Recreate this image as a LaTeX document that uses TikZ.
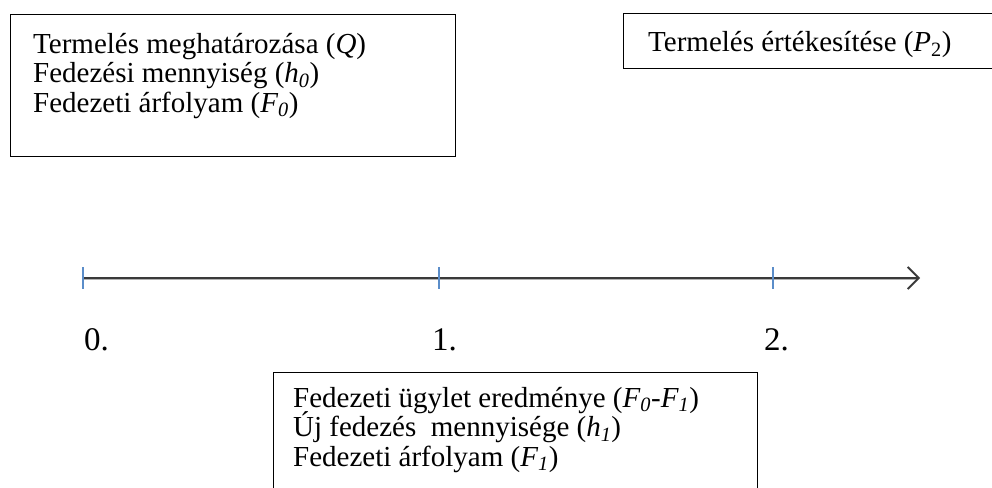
\documentclass[tikz,border=0pt]{standalone}
\usepackage{fontspec}
\setmainfont{Liberation Serif}
\usetikzlibrary{arrows.meta}
\definecolor{tickblue}{HTML}{5B8DC9}
\definecolor{axisgray}{HTML}{3A3A3A}
\definecolor{shadowgray}{HTML}{B0B0B0}
\tikzset{
  box/.style={draw=black, line width=1.4pt, fill=none, inner sep=0pt},
  txt/.style={font=\fontsize{29}{29.5}\selectfont, inner sep=0pt, anchor=base west},
  lbl/.style={font=\fontsize{33}{35}\selectfont, inner sep=0pt, anchor=base west},
  axisline/.style={draw=axisgray, line width=1.8pt, -{Straight Barb[length=11pt,width=22pt,line width=1.8pt]}},
  axisshadow/.style={draw=shadowgray, line width=1.2pt},
  tickmark/.style={draw=tickblue, line width=1.2pt}
}
\begin{document}
\begin{tikzpicture}[x=1pt,y=-1pt]
\useasboundingbox (0,0) rectangle (992,487);
\clip (0,0) rectangle (992,487);
\fill[white] (0,0) rectangle (992,487);
% box 1
\node[box, anchor=north west, minimum width=445pt, minimum height=142pt] (b1) at (10,14) {};
\node[txt] (t1a) at (33,53) {Termelés meghatározása (\textit{Q})};
\node[txt] (t1b) at (33,82.5) {Fedezési mennyiség (\textit{h}\textsubscript{\textit{0}})};
\node[txt] (t1c) at (33,112) {Fedezeti árfolyam (\textit{F}\textsubscript{\textit{0}})};
% box 2
\node[box, anchor=north west, minimum width=420pt, minimum height=55pt] (b2) at (623,13) {};
\node[txt] (t2) at (648,52) {Termelés értékesítése (\textit{P}\textsubscript{2})};
% box 3
\node[box, anchor=north west, minimum width=484pt, minimum height=160pt] (b3) at (273,372) {};
\node[txt] (t3a) at (293,407) {Fedezeti ügylet eredménye (\textit{F}\textsubscript{\textit{0}}-\textit{F}\textsubscript{\textit{1}})};
\node[txt] (t3b) at (293,436.5) {Új fedezés\ \ mennyisége (\textit{h}\textsubscript{\textit{1}})};
\node[txt] (t3c) at (293,466) {Fedezeti árfolyam (\textit{F}\textsubscript{\textit{1}})};
% axis
\coordinate (a0) at (83,278);
\coordinate (a1) at (439,278);
\coordinate (a2) at (773,278);
\coordinate (aend) at (920,278);
\draw[axisshadow] ([yshift=-1.6pt]a0) -- ([yshift=-1.6pt,xshift=-3pt]aend);
\draw[axisline] (a0) -- (aend);
\foreach \p in {a0,a1,a2} {
  \draw[tickmark] ([yshift=11pt]\p) -- ([yshift=-11pt]\p);
}
\node[lbl] (l0) at (84,350) {0.};
\node[lbl] (l1) at (432,350) {1.};
\node[lbl] (l2) at (764,350) {2.};
\end{tikzpicture}
\end{document}
